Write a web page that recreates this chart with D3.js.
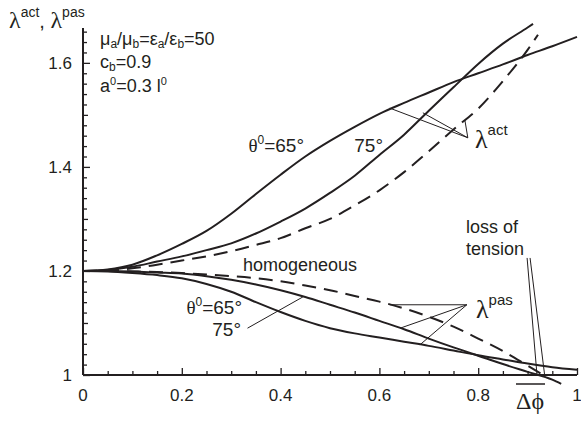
<!DOCTYPE html>
<html><head><meta charset="utf-8">
<script src="https://cdn.jsdelivr.net/npm/d3@7"></script>
<style>
html,body{margin:0;padding:0;background:#fff;}
svg{display:block;font-family:"Liberation Sans",Arial,sans-serif;}
</style>
</head><body>
<svg id="chart" width="581" height="421"></svg>
<script>
// Axis ticks
const xTickValues = [0, 0.2, 0.4, 0.6, 0.8, 1];
const xTickLabels = ["0", "0.2", "0.4", "0.6", "0.8", "1"];
const yTickValues = [1, 1.2, 1.4, 1.6];
const yTickLabels = ["1", "1.2", "1.4", "1.6"];

// Active stretch λ^act versus Δφ
const actPhi65 = [0,0.05,0.1,0.15,0.2,0.25,0.3,0.35,0.4,0.45,0.5,0.55,0.6,0.65,0.7,0.75,0.8,0.85,0.9,0.95,1];
const act65    = [1.2,1.203,1.212,1.23,1.252,1.277,1.31,1.348,1.385,1.42,1.45,1.477,1.502,1.523,1.543,1.563,1.58,1.597,1.615,1.632,1.65];
const actPhi75 = [0,0.05,0.1,0.15,0.2,0.25,0.3,0.35,0.4,0.45,0.5,0.55,0.6,0.65,0.7,0.75,0.8,0.85,0.9,0.911];
const act75    = [1.2,1.202,1.208,1.218,1.228,1.24,1.253,1.272,1.295,1.32,1.35,1.383,1.423,1.462,1.508,1.553,1.598,1.637,1.668,1.675];
const actPhiHom = [0,0.05,0.1,0.15,0.2,0.25,0.3,0.35,0.4,0.45,0.5,0.55,0.6,0.65,0.7,0.75,0.8,0.85,0.9,0.921];
const actHom    = [1.2,1.201,1.205,1.212,1.22,1.228,1.238,1.25,1.263,1.282,1.3,1.326,1.355,1.39,1.43,1.472,1.512,1.565,1.625,1.654];

// Passive stretch λ^pas versus Δφ
const pasPhi65 = [0,0.05,0.1,0.15,0.2,0.25,0.3,0.35,0.4,0.45,0.5,0.55,0.6,0.65,0.7,0.75,0.8,0.85,0.9,0.95,1];
const pas65    = [1.2,1.199,1.196,1.192,1.186,1.175,1.16,1.14,1.121,1.104,1.09,1.08,1.072,1.064,1.056,1.047,1.038,1.03,1.022,1.015,1.01];
const pasPhi75 = [0,0.05,0.1,0.15,0.2,0.25,0.3,0.35,0.4,0.45,0.5,0.55,0.6,0.65,0.7,0.75,0.8,0.85,0.9,0.95,0.968];
const pas75    = [1.2,1.2,1.199,1.197,1.195,1.19,1.183,1.174,1.163,1.15,1.135,1.12,1.104,1.088,1.07,1.053,1.037,1.021,1.006,0.991,0.983];
const pasPhiHom = [0,0.05,0.1,0.15,0.2,0.25,0.3,0.35,0.4,0.45,0.5,0.55,0.6,0.65,0.7,0.75,0.8,0.85,0.9,0.935];
const pasHom    = [1.2,1.2,1.199,1.198,1.196,1.193,1.19,1.186,1.18,1.172,1.163,1.152,1.141,1.128,1.112,1.093,1.07,1.046,1.018,0.998];

const svg = d3.select("#chart");
const x = d3.scaleLinear().domain([0, 1]).range([83, 577]);
const y = d3.scaleLinear().domain([1, 1.667]).range([375, 28]);
const ink = "#231f20";

// Axes: ticks drawn inward
const xAxis = d3.axisTop(x)
  .tickValues(d3.range(0, 1.0001, 0.05))
  .tickSizeInner(0).tickSizeOuter(0).tickFormat("");
const gx = svg.append("g").attr("transform", `translate(0,${y(1)})`).call(xAxis);
gx.select(".domain").remove();
gx.selectAll(".tick line")
  .attr("y2", d => (Math.abs(d * 5 - Math.round(d * 5)) < 1e-6 ? -7 : -4))
  .attr("stroke", ink).attr("stroke-width", 1.3);

const yAxis = d3.axisRight(y)
  .tickValues(d3.range(1, 1.6601, 0.02))
  .tickSizeInner(0).tickSizeOuter(0).tickFormat("");
const gy = svg.append("g").attr("transform", `translate(${x(0)},0)`).call(yAxis);
gy.select(".domain").remove();
gy.selectAll(".tick line")
  .attr("x2", d => (Math.abs(d * 5 - Math.round(d * 5)) < 1e-6 ? 7 : (Math.abs(d * 10 - Math.round(d * 10)) < 1e-6 ? 5 : 4)))
  .attr("stroke", ink).attr("stroke-width", 1.3);

svg.append("line").attr("x1", x(0)).attr("x2", x(1)).attr("y1", y(1)).attr("y2", y(1))
  .attr("stroke", ink).attr("stroke-width", 2);
svg.append("line").attr("x1", x(0)).attr("x2", x(0)).attr("y1", y(1)).attr("y2", y(1.667))
  .attr("stroke", ink).attr("stroke-width", 2);

svg.append("g").selectAll("text").data(xTickValues).join("text")
  .attr("x", d => x(d)).attr("y", 401).attr("text-anchor", "middle")
  .attr("font-size", 17).attr("fill", ink)
  .text((d, i) => xTickLabels[i]);
svg.append("g").selectAll("text").data(yTickValues).join("text")
  .attr("x", 72).attr("y", d => y(d) + 6).attr("text-anchor", "end")
  .attr("font-size", 17).attr("fill", ink)
  .text((d, i) => yTickLabels[i]);

// Curves
const line = d3.line().x(d => x(d[0])).y(d => y(d[1])).curve(d3.curveMonotoneX);
const series = [
  [actPhi65, act65, null], [actPhi75, act75, null], [actPhiHom, actHom, "14,8"],
  [pasPhi65, pas65, null], [pasPhi75, pas75, null], [pasPhiHom, pasHom, "14,8"]
];
series.forEach(([px, py, dash]) => {
  svg.append("path")
    .attr("d", line(px.map((v, i) => [v, py[i]])))
    .attr("fill", "none").attr("stroke", ink).attr("stroke-width", 2)
    .attr("stroke-dasharray", dash);
});

// Leader lines
function leader(a, b) {
  svg.append("line")
    .attr("x1", x(a[0])).attr("y1", y(a[1])).attr("x2", x(b[0])).attr("y2", y(b[1]))
    .attr("stroke", ink).attr("stroke-width", 1);
}
const actTip = [0.779, 1.456];
leader([0.621, 1.513], actTip);
leader([0.688, 1.504], actTip);
leader([0.773, 1.49], actTip);
const pasTip = [0.777, 1.135];
leader([0.621, 1.135], pasTip);
leader([0.642, 1.09], pasTip);
leader([0.682, 1.058], pasTip);
leader([0.333, 1.09], [0.445, 1.15]);
leader([0.899, 1.225], [0.919, 1.0]);
leader([0.905, 1.225], [0.935, 0.996]);

const serif = "'Liberation Serif','DejaVu Serif',serif";

// Y axis title λ^act, λ^pas
const yt = svg.append("text").attr("y", 28).attr("fill", ink);
yt.append("tspan").attr("x", 9).attr("font-family", serif).attr("font-size", 24).text("λ");
yt.append("tspan").attr("font-size", 14).attr("dy", -11).text("act");
yt.append("tspan").attr("font-size", 20).attr("dy", 11).text(", ");
yt.append("tspan").attr("font-family", serif).attr("font-size", 24).text("λ");
yt.append("tspan").attr("font-size", 14).attr("dy", -11).text("pas");

// Parameters
const p1 = svg.append("text").attr("x", 100).attr("y", 45).attr("font-size", 18).attr("fill", ink);
[["μ", 0], ["a", 1], ["/μ", 0], ["b", 1], ["=ε", 0], ["a", 1], ["/ε", 0], ["b", 1], ["=50", 0]].forEach(([s, sub], i, arr) => {
  const sp = p1.append("tspan").text(s);
  if (sub) sp.attr("font-size", 12).attr("dy", 3);
  else if (i > 0 && arr[i - 1][1]) sp.attr("dy", -3);
});
const p2 = svg.append("text").attr("x", 100).attr("y", 68).attr("font-size", 18).attr("fill", ink);
p2.append("tspan").text("c");
p2.append("tspan").attr("font-size", 12).attr("dy", 3).text("b");
p2.append("tspan").attr("dy", -3).text("=0.9");
const p3 = svg.append("text").attr("x", 100).attr("y", 92).attr("font-size", 18).attr("fill", ink);
p3.append("tspan").text("a");
p3.append("tspan").attr("font-size", 11).attr("dy", -7).text("0");
p3.append("tspan").attr("dy", 7).text("=0.3 l");
p3.append("tspan").attr("font-size", 11).attr("dy", -7).text("0");

// θ labels
function thetaLabel(tx, ty) {
  const t = svg.append("text").attr("x", tx).attr("y", ty).attr("font-size", 19)
    .attr("fill", ink).attr("text-anchor", "end");
  t.append("tspan").attr("font-family", serif).text("θ");
  t.append("tspan").attr("font-size", 12).attr("dy", -8).text("0");
  t.append("tspan").attr("dy", 8).text("=65°");
}
thetaLabel(304, 152);
svg.append("text").attr("x", 383).attr("y", 152).attr("font-size", 19).attr("fill", ink)
  .attr("text-anchor", "end").text("75°");
thetaLabel(242, 314);
svg.append("text").attr("x", 241).attr("y", 336).attr("font-size", 19).attr("fill", ink)
  .attr("text-anchor", "end").text("75°");

svg.append("text").attr("x", 243).attr("y", 271).attr("font-size", 18).attr("fill", ink).text("homogeneous");

// λ^act and λ^pas labels
function lamLabel(tx, ty, sup) {
  const t = svg.append("text").attr("x", tx).attr("y", ty).attr("fill", ink);
  t.append("tspan").attr("font-family", serif).attr("font-size", 26).text("λ");
  t.append("tspan").attr("font-size", 15).attr("dy", -13).text(sup);
}
lamLabel(475, 148, "act");
lamLabel(476, 318, "pas");

svg.append("text").attr("x", 466).attr("y", 233).attr("font-size", 18).attr("fill", ink).text("loss of");
svg.append("text").attr("x", 466).attr("y", 255).attr("font-size", 18).attr("fill", ink).text("tension");

// X axis title: Δϕ with overbar
svg.append("text").attr("x", 516).attr("y", 409).attr("font-size", 24).attr("fill", ink)
  .attr("font-family", serif).text("Δϕ");
svg.append("line").attr("x1", 516).attr("x2", 545).attr("y1", 384).attr("y2", 384)
  .attr("stroke", ink).attr("stroke-width", 1.5);
</script>
</body></html>
